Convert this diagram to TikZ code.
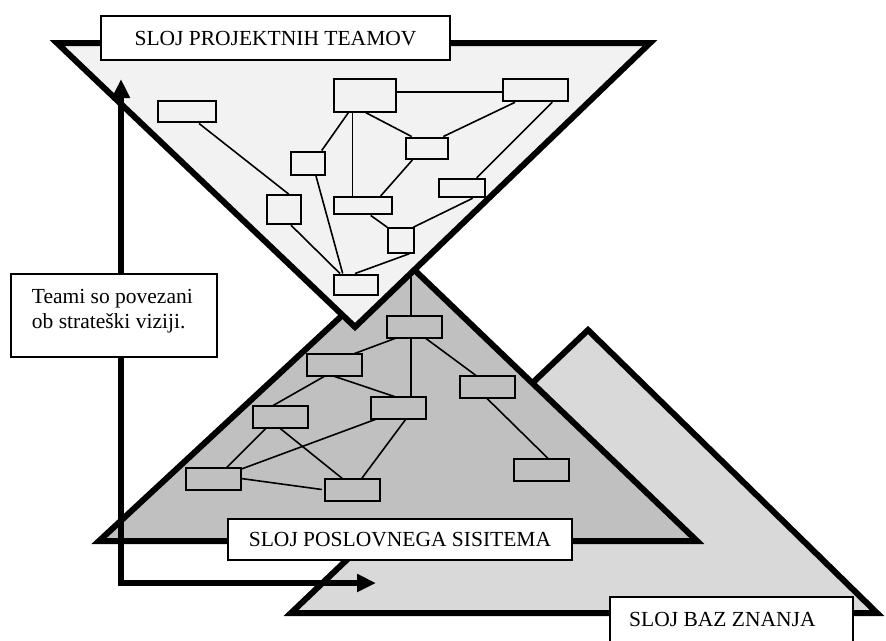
\documentclass[tikz,border=0pt]{standalone}
\usepackage{fontspec}
\setmainfont{Liberation Serif}
\usetikzlibrary{arrows.meta,calc}
\definecolor{toptri}{RGB}{242,242,242}
\definecolor{midtri}{RGB}{192,192,192}
\definecolor{lighttri}{RGB}{217,217,217}
\begin{document}
\begin{tikzpicture}[x=1pt,y=-1pt,
  tri/.style={line width=6pt, line join=miter, draw=black},
  topbox/.style={draw, line width=2pt, fill=toptri, inner sep=0pt},
  darkbox/.style={draw, line width=2pt, fill=midtri, inner sep=0pt, minimum width=53pt, minimum height=20pt},
  link/.style={line width=1.6pt},
  lbl/.style={draw, line width=1.8pt, fill=white, inner sep=0pt, font=\fontsize{21.5}{25}\selectfont, text height=14.5pt, text depth=0pt},
  txt/.style={inner sep=0pt, font=\fontsize{21.5}{25}\selectfont},
  bigarrow/.style={line width=6pt, line join=miter, {Triangle[length=19pt,width=17pt]}-{Triangle[length=19pt,width=17pt]}}
  ]
\useasboundingbox (0,0) rectangle (886,640);
\clip (0,0) rectangle (886,640);

% light (knowledge) triangle
\path[tri, fill=lighttri] (291,613) -- (588,330) -- (877,613) -- cycle;

% dark (business system) triangle
\path[tri, fill=midtri] (99,541) -- (403,259) -- (697,541) -- cycle;

% dark network nodes
\node[darkbox] (K) at (414.7,326.8) {};
\node[darkbox] (L) at (334.7,365) {};
\node[darkbox] (M) at (398.2,408.3) {};
\node[darkbox] (N) at (487.5,386.5) {};
\node[darkbox] (O) at (280,417.3) {};
\node[darkbox] (P) at (213.7,478.5) {};
\node[darkbox] (Q) at (352.8,489.5) {};
\node[darkbox] (R) at (541.7,469.7) {};
\coordinate (Kup) at (411,268);

\draw[link] ([xshift=-3.7]K.north) -- ([xshift=-3.7]K.north |- Kup);
\draw[link] ([xshift=-3.7]K.south) -- ([xshift=-3.7]K.south |- M.north);
\draw[link] ([xshift=-18]K.south) -- ([xshift=18.6]L.north);
\draw[link] ([xshift=10.3]K.south) -- ([xshift=-11.5]N.north);
\draw[link] ([xshift=-1.4]L.south) -- ([xshift=-1.5]M.north);
\draw[link] ([xshift=-9.7]L.south) -- ([xshift=-8.3]O.north);
\draw[link] ([xshift=-14]O.south) -- ([xshift=13]P.north);
\draw[link] (O.south) -- ([xshift=-10.5]Q.north);
\draw[link] ([xshift=-22.5]M.south) -- ([yshift=-1.6]P.north east);
\draw[link] ([xshift=7.5]M.south) -- ([xshift=8.9]Q.north);
\draw[link] (P.east) -- ([xshift=-3.5]Q.west);
\draw[link] ([xshift=-1.5]N.south) -- ([xshift=6.6]R.north);

% redraw dark nodes on top of links
\foreach \n in {K,L,M,N,O,P,Q,R} {\path[darkbox] (\n.south west) rectangle (\n.north east);}

% business label
\node[lbl, minimum width=344pt, minimum height=41pt] (poslovni) at (400,539.5) {SLOJ POSLOVNEGA SISITEMA};

% top (project teams) triangle
\path[tri, fill=toptri] (57,43) -- (650,43) -- (355,327) -- cycle;

% top network nodes
\node[topbox, minimum width=58pt, minimum height=21.5pt] (A) at (187.3,111.7) {};
\node[topbox, minimum width=62pt, minimum height=32.5pt] (B) at (364.7,95.5) {};
\node[topbox, minimum width=65.5pt, minimum height=22pt] (C) at (535.3,90.3) {};
\node[topbox, minimum width=34pt, minimum height=23.5pt] (D) at (307.8,163.3) {};
\node[topbox, minimum width=42pt, minimum height=21.5pt] (E) at (427.3,148.3) {};
\node[topbox, minimum width=45.5pt, minimum height=18.5pt] (F) at (462,188) {};
\node[topbox, minimum width=34pt, minimum height=29pt] (G) at (283.8,209.7) {};
\node[topbox, minimum width=58pt, minimum height=17.5pt] (H) at (362.5,205.7) {};
\node[topbox, minimum width=25.5pt, minimum height=24.5pt] (I) at (401,240.5) {};
\node[topbox, minimum width=44.5pt, minimum height=20.5pt] (J) at (355.8,284.8) {};

\draw[link] ([xshift=11.7]A.south) -- ([xshift=5]G.north);
\draw[link] ([yshift=3.8]B.east) -- ([yshift=3.8]B.east -| C.west);
\draw[link] ([xshift=-16.4]B.south) -- ([xshift=13.9]D.north);
\draw[link] ([xshift=-12.4]B.south) -- ([xshift=-12.4]B.south |- H.north);
\draw[link] ([xshift=1.3]B.south) -- ([xshift=-15.6]E.north);
\draw[link] ([xshift=-20.3]C.south) -- ([xshift=16]E.north);
\draw[link] ([xshift=17]C.south) -- ([xshift=14.7]F.north);
\draw[link] ([xshift=-15]E.south) -- ([xshift=18.2]H.north);
\draw[link] ([xshift=8.2]D.south) -- ([xshift=-13.1]J.north);
\draw[link] ([xshift=7.2]G.south) -- ([xshift=-15.8]J.north);
\draw[link] ([xshift=8.2]H.south) -- (I.north west);
\draw[link] ([xshift=10.7]F.south) -- ([xshift=12.3]I.north);
\draw[link] ([xshift=8.3]I.south) -- ([xshift=-0.8]J.north);

% labels of the top and knowledge layers
\node[lbl, minimum width=349pt, minimum height=44pt] (projekti) at (275.5,38) {SLOJ PROJEKTNIH TEAMOV};
\node[lbl, minimum width=243pt, minimum height=80pt, anchor=north west] (baz) at (609,596) {};
\node[txt, anchor=base west] (baztxt) at (629,626.7) {SLOJ BAZ ZNANJA};

% big arrow
\coordinate (arrtop) at (121,79);
\coordinate (arrcorner) at (121,583);
\coordinate (arrend) at (376,583);
\draw[bigarrow] (arrtop) -- (arrcorner) -- (arrend);

% explanation box
\node[lbl, minimum width=206pt, minimum height=83pt] (teami) at (114,315.5) {};
\node[txt, anchor=base west] (teami1) at (31.7,303.3) {Teami so povezani};
\node[txt, anchor=base west] (teami2) at (31.7,328.3) {ob strateški viziji.};
\end{tikzpicture}
\end{document}
